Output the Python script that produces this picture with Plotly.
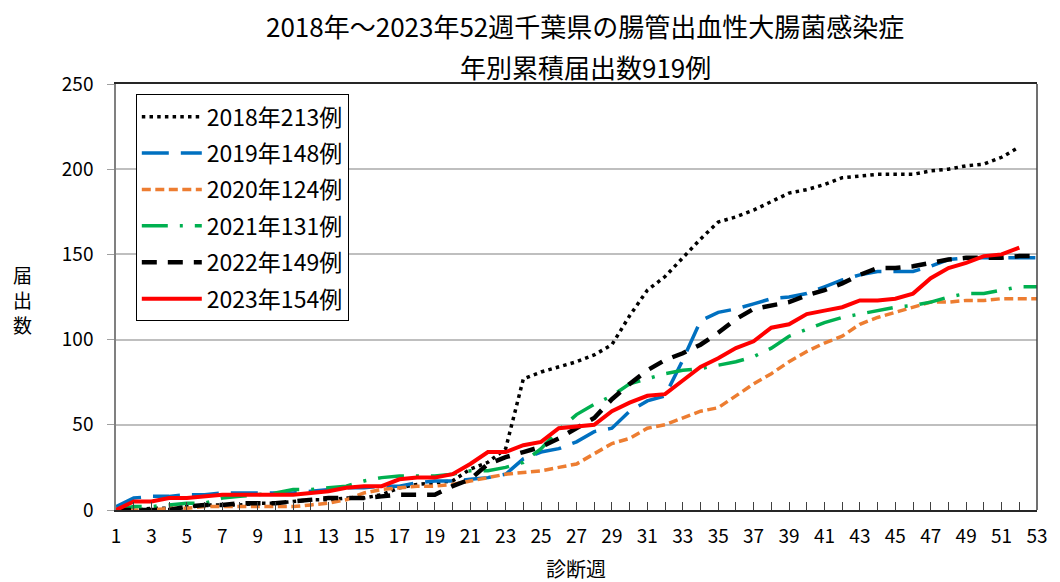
import plotly.graph_objects as go

weeks52 = list(range(1, 53))
weeks53 = list(range(1, 54))

v2018 = [0, 0, 1, 1, 2, 3, 3, 3, 4, 4, 5, 6, 6, 7, 7, 9, 13, 15, 16, 17,
         24, 28, 36, 77, 81, 84, 87, 91, 97, 114, 129, 137, 148, 159, 169, 172, 176, 181, 186, 188,
         191, 195, 196, 197, 197, 197, 199, 200, 202, 203, 207, 213]
v2019 = [2, 7, 8, 8, 9, 9, 10, 10, 10, 10, 10, 11, 12, 13, 13, 14, 14, 16, 17, 17,
         18, 19, 21, 30, 34, 36, 40, 46, 48, 58, 64, 67, 88, 111, 116, 118, 121, 124, 125, 127,
         131, 135, 138, 140, 140, 140, 143, 147, 148, 148, 148, 148, 148]
v2020 = [0, 0, 0, 1, 1, 2, 2, 2, 2, 2, 2, 3, 4, 6, 10, 12, 13, 14, 14, 15,
         17, 19, 21, 22, 23, 25, 27, 33, 39, 42, 48, 50, 54, 58, 60, 67, 74, 80, 87, 93,
         98, 102, 109, 113, 116, 119, 122, 122, 123, 123, 124, 124, 124]
v2021 = [0, 2, 2, 3, 4, 4, 7, 8, 9, 10, 12, 12, 13, 14, 17, 19, 20, 20, 20, 21,
         23, 23, 25, 28, 36, 47, 56, 62, 67, 74, 77, 80, 82, 83, 85, 87, 90, 95, 102, 106,
         110, 113, 115, 117, 119, 120, 122, 125, 127, 127, 129, 131, 131]
v2022 = [0, 0, 0, 0, 2, 3, 3, 4, 4, 4, 5, 6, 7, 7, 7, 8, 9, 9, 9, 14,
         18, 27, 31, 34, 37, 42, 48, 54, 65, 74, 82, 88, 92, 97, 104, 112, 118, 120, 122, 126,
         129, 133, 138, 142, 142, 143, 145, 147, 148, 148, 148, 149, 149]
v2023 = [0, 5, 5, 7, 7, 8, 9, 9, 9, 9, 9, 10, 11, 13, 14, 14, 18, 19, 19, 21,
         27, 34, 34, 38, 40, 48, 49, 50, 58, 63, 67, 68, 76, 84, 89, 95, 99, 107, 109, 115,
         117, 119, 123, 123, 124, 127, 136, 142, 145, 149, 150, 154]

names = ["2018年213例", "2019年148例", "2020年124例", "2021年131例", "2022年149例", "2023年154例"]
title1 = "2018年～2023年52週千葉県の腸管出血性大腸菌感染症"
title2 = "年別累積届出数919例"
xtitle = "診断週"
ytitle_chars = ["届", "出", "数"]

FONT = "Noto Sans CJK JP"

series = [
    (weeks52, v2018, "#000000", "3.5px,4.2px", 3.5),
    (weeks53, v2019, "#0070C0", "27px,12px", 3.5),
    (weeks53, v2020, "#ED7D31", "9px,4.5px", 3.5),
    (weeks53, v2021, "#00B050", "26px,12px,3px,12px", 3.5),
    (weeks53, v2022, "#000000", "15px,11px", 4.5),
    (weeks52, v2023, "#FF0000", "solid", 4),
]

fig = go.Figure()
for i, (xs, ys, col, dash, w) in enumerate(series):
    fig.add_trace(go.Scatter(x=xs, y=ys, mode="lines", name=names[i],
                             legendgroup=str(i),
                             line=dict(color=col, dash=dash, width=w)))

# page is offset by 8px body margin; figure coords = page coords - 8
fig.update_layout(
    width=1052, height=574,
    margin=dict(l=108, r=14, t=76, b=72),
    paper_bgcolor="white", plot_bgcolor="white",
    font=dict(family=FONT, size=19, color="#000000"),
    showlegend=True,
    legend=dict(x=0.0215, y=0.976, xanchor="left", yanchor="top",
                bordercolor="#000000", borderwidth=1, bgcolor="white",
                font=dict(family=FONT, size=23), tracegroupgap=3.5,
                itemwidth=60),
    xaxis=dict(range=[1, 53], tick0=1, dtick=2, ticks="inside", ticklen=8,
               tickcolor="#404040", showline=True, linecolor="#262626", linewidth=1.5,
               mirror=True, showgrid=False, zeroline=False,
               minor=dict(dtick=1, ticks="inside", ticklen=8, tickcolor="#404040", showgrid=False),
               tickfont=dict(family=FONT, size=19), ticklabelstandoff=8),
    yaxis=dict(range=[0, 250], dtick=50, ticks="outside", ticklen=7, tickcolor="#A0A0A0",
               showline=True, linecolor="#808080", linewidth=1.5,
               showgrid=True, gridcolor="#BFBFBF", gridwidth=1.5, zeroline=False,
               tickfont=dict(family=FONT, size=19), ticklabelstandoff=10),
)

fig.add_shape(type="line", xref="paper", yref="paper", x0=1, x1=1, y0=0, y1=1,
              line=dict(color="#404040", width=1.5))

fig.add_annotation(text=title1, xref="paper", yref="paper", x=(590 - 116) / 930, y=(510 - 25) / 426,
                   xanchor="center", yanchor="middle", showarrow=False,
                   font=dict(family=FONT, size=26))
fig.add_annotation(text=title2, xref="paper", yref="paper", x=(590 - 116) / 930, y=(510 - 67) / 426,
                   xanchor="center", yanchor="middle", showarrow=False,
                   font=dict(family=FONT, size=26))
fig.add_annotation(text=xtitle, xref="paper", yref="paper", x=(580 - 116) / 930, y=(510 - 568) / 426,
                   xanchor="center", yanchor="middle", showarrow=False,
                   font=dict(family=FONT, size=20))
for k, ch in enumerate(ytitle_chars):
    fig.add_annotation(text=ch, xref="paper", yref="paper", x=(22 - 116) / 930,
                       y=(510 - (274 + 25 * k)) / 426,
                       xanchor="center", yanchor="middle", showarrow=False,
                       font=dict(family=FONT, size=19))

fig.write_html("out.html")
